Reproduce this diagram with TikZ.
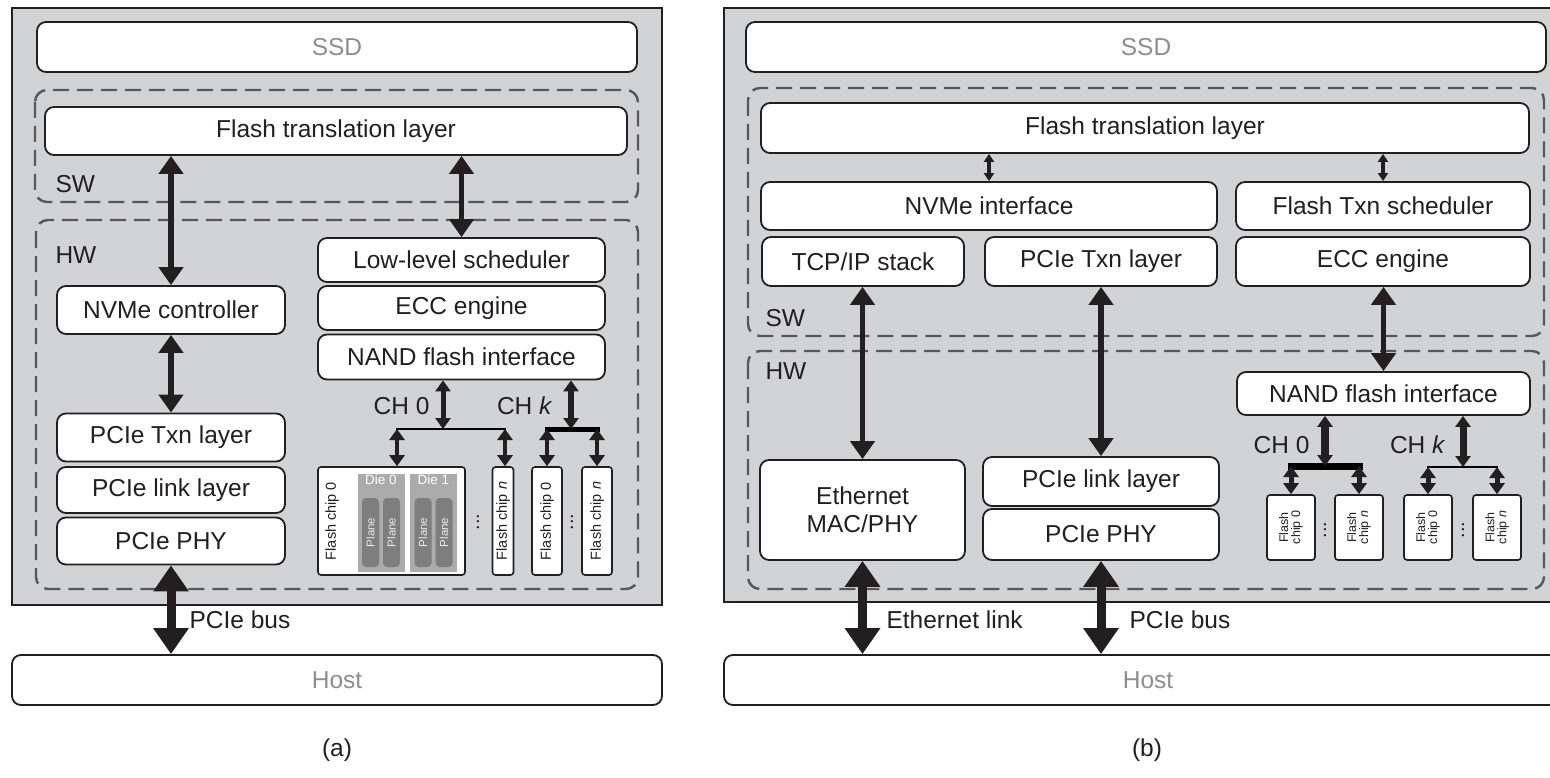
\documentclass[tikz,border=0pt]{standalone}
\usepackage{fontspec}
\setmainfont{Liberation Sans}
\usetikzlibrary{arrows.meta}

\definecolor{casegray}{HTML}{D1D3D4}
\definecolor{ink}{HTML}{231F20}
\definecolor{faint}{HTML}{8E8E8E}
\definecolor{diegray}{HTML}{ABABAB}
\definecolor{planegray}{HTML}{7E7E7E}

\begin{document}
\begin{tikzpicture}[x=1pt,y=-1pt,
    font=\fontsize{24.5}{28}\selectfont, text=ink,
    blk/.style={draw=ink, fill=white, line width=1.8pt, rounded corners=9pt, inner sep=0pt},
    casebox/.style={draw=ink, fill=casegray, line width=2pt},
    zone/.style={draw=ink!75, line width=2.4pt, dash pattern=on 16pt off 8pt, rounded corners=12pt},
    dbl/.style={{Triangle[width=24pt,length=18pt]}-{Triangle[width=24pt,length=18pt]}, line width=5.5pt, draw=ink},
    thindbl/.style={{Triangle[width=10pt,length=8pt]}-{Triangle[width=10pt,length=8pt]}, line width=3.5pt, draw=ink},
    bigdbl/.style={{Triangle[width=34pt,length=26pt]}-{Triangle[width=34pt,length=26pt]}, line width=9pt, draw=ink},
    chdbl/.style={{Triangle[width=15pt,length=11pt]}-{Triangle[width=15pt,length=11pt]}, line width=#1, draw=ink},
    chipbox/.style={draw=ink, fill=white, line width=1.6pt, rounded corners=3pt, inner sep=0pt},
    chiptxt/.style={rotate=90, font=\fontsize{14.5}{15}\selectfont, inner sep=0pt},
    tinytxt/.style={rotate=90, font=\fontsize{12.5}{12}\selectfont, align=center, inner sep=0pt},
    die/.style={fill=diegray, draw=white, line width=1pt, inner sep=0pt},
    plane/.style={fill=planegray, rounded corners=4pt, inner sep=0pt, minimum width=17pt, minimum height=69pt},
    planetxt/.style={rotate=90, font=\fontsize{11.5}{11}\selectfont, text=white!85!planegray, inner sep=0pt},
    dotstxt/.style={rotate=90, font=\fontsize{20}{20}\selectfont, inner sep=0pt}
  ]
  \useasboundingbox (0,0) rectangle (1550,778);
  \fill[white] (0,0) rectangle (1550,778);
  \clip (0,0) rectangle (1550,778);

  % (a) SSD with hardware NVMe controller
  \draw[casebox] (12,8) rectangle (662,605);
  \node[blk, minimum width=600pt, minimum height=50pt, text=faint] (assd) at (337,47) {SSD};
  \draw[zone] (35,90) rectangle (638,202);
  \draw[zone] (36,220) rectangle (638,589);
  \node[anchor=west] at (52,184) {SW};
  \node[anchor=west] at (52,255) {HW};
  \node[blk, minimum width=582pt, minimum height=48pt] (aftl) at (336,131) {Flash translation layer};
  \node[blk, minimum width=287pt, minimum height=44pt] (alls) at (461.5,260) {Low-level scheduler};
  \node[blk, minimum width=287pt, minimum height=44pt] (aecc) at (461.5,308) {ECC engine};
  \node[blk, minimum width=287pt, minimum height=45pt] (anand) at (461.5,357) {NAND flash interface};
  \node[blk, minimum width=228pt, minimum height=48pt] (anvme) at (171,310) {NVMe controller};
  \node[blk, minimum width=228pt, minimum height=48pt] (atxn) at (171,437.5) {PCIe Txn layer};
  \node[blk, minimum width=228pt, minimum height=46pt] (alink) at (171,490) {PCIe link layer};
  \node[blk, minimum width=228pt, minimum height=47pt] (aphy) at (171,541) {PCIe PHY};
  \node[blk, minimum width=650pt, minimum height=50pt, text=faint] (ahost) at (337,680) {Host};
  \node (acap) at (337,750) {(a)};

  % flash chips of (a)
  \node[chipbox, minimum width=147pt, minimum height=108pt] (achip0) at (391.5,521) {};
  \node[chiptxt] at (332,521) {Flash chip 0};
  \foreach \dx/\dn in {381/0, 433.5/1} {
    \node[die, minimum width=48pt, minimum height=99pt] (adie\dn) at (\dx,522.5) {};
    \node[below=2pt, font=\fontsize{13.5}{13}\selectfont, text=white, inner sep=0pt] at (adie\dn.north) {Die \dn};
    \foreach \px in {-10.5, 10.5} {
      \node[plane] at (\dx+\px,532.5) {};
      \node[planetxt] at (\dx+\px,532.5) {Plane};
    }
  }
  \node[dotstxt] at (478,522) {...};
  \node[chipbox, minimum width=21pt, minimum height=108pt] (achipn) at (503,521) {};
  \node[chiptxt] at (achipn) {Flash chip \textit{n}};
  \node[chipbox, minimum width=30pt, minimum height=108pt] (akchip0) at (547,521) {};
  \node[chiptxt] at (akchip0) {Flash chip 0};
  \node[dotstxt] at (572,522) {...};
  \node[chipbox, minimum width=30pt, minimum height=108pt] (akchipn) at (597,521) {};
  \node[chiptxt] at (akchipn) {Flash chip \textit{n}};

  \coordinate (ach0) at (443,429);
  \coordinate (achk) at (571,429);
  \coordinate (ad0) at (397,429);
  \coordinate (adn) at (505,429);
  \node[anchor=east] at (433,406) {CH 0};
  \node[anchor=east] at (556,406) {CH \textit{k}};
  \draw[line width=1.6pt, line cap=rect] (ad0) -- (adn);
  \draw[line width=5pt, line cap=rect] (akchip0.north |- achk) -- (akchipn.north |- achk);
  \draw[chdbl=5pt] (anand.south -| ach0) -- (ach0);
  \draw[chdbl=6.5pt] (anand.south -| achk) -- (achk);
  \draw[chdbl=4.5pt] (ad0) -- (ad0 |- achip0.north);
  \draw[chdbl=4.5pt] (adn) -- (adn |- achipn.north);
  \draw[chdbl=4.5pt] (achk -| akchip0) -- (akchip0.north);
  \draw[chdbl=4.5pt] (achk -| akchipn) -- (akchipn.north);

  \draw[dbl] (aftl.south -| anvme) -- (anvme.north);
  \draw[dbl] (aftl.south -| alls) -- (alls.north);
  \draw[dbl] (anvme.south) -- (atxn.north);
  \draw[bigdbl] (aphy.south) -- (aphy.south |- ahost.north);
  \node[anchor=west] at (186,620) {PCIe bus};

  % (b) SSD with NVMe over Ethernet
  \draw[casebox] (724,8) rectangle (1580,602);
  \node[blk, minimum width=800pt, minimum height=50pt, text=faint] (bssd) at (1146,47) {SSD};
  \draw[zone] (748,88) rectangle (1544,336);
  \draw[zone] (748,351) rectangle (1544,589);
  \node[anchor=west] at (762,318) {SW};
  \node[anchor=west] at (762,371) {HW};
  \node[blk, minimum width=768pt, minimum height=50pt] (bftl) at (1145,128) {Flash translation layer};
  \node[blk, minimum width=456pt, minimum height=48pt] (bnvme) at (989,206) {NVMe interface};
  \node[blk, minimum width=294pt, minimum height=48pt] (bsched) at (1383,206) {Flash Txn scheduler};
  \node[blk, minimum width=202pt, minimum height=49pt] (btcp) at (863,261.5) {TCP/IP stack};
  \node[blk, minimum width=232pt, minimum height=49pt] (btxn) at (1101,261.5) {PCIe Txn layer};
  \node[blk, minimum width=294pt, minimum height=49pt] (becc) at (1383,261.5) {ECC engine};
  \node[blk, minimum width=293pt, minimum height=43pt] (bnand) at (1383.5,393.5) {NAND flash interface};
  \node[blk, minimum width=205pt, minimum height=100pt, align=center] (beth) at (862.5,510) {Ethernet\\MAC/PHY};
  \node[blk, minimum width=236pt, minimum height=49pt] (blink) at (1101,481.5) {PCIe link layer};
  \node[blk, minimum width=236pt, minimum height=51pt] (bphy) at (1101,534.5) {PCIe PHY};
  \node[blk, minimum width=848pt, minimum height=50pt, text=faint] (bhost) at (1148,680) {Host};
  \node (bcap) at (1147,750) {(b)};

  % flash chips of (b)
  \foreach \cx/\cn/\cl in {1291/a/0, 1359/b/\textit{n}, 1428/c/0, 1497/d/\textit{n}} {
    \node[chipbox, minimum width=48pt, minimum height=65pt] (bchip\cn) at (\cx,527.5) {};
    \node[tinytxt] at (bchip\cn) {Flash\\chip \cl};
  }
  \node[dotstxt] at (1325,530) {...};
  \node[dotstxt] at (1463,530) {...};
  \coordinate (bch0) at (1325,466);
  \coordinate (bchk) at (1463,467);
  \node[anchor=east] at (1313,445) {CH 0};
  \node[anchor=east] at (1449,445) {CH \textit{k}};
  \draw[line width=7pt, line cap=rect] (bch0 -| bchipa) -- (bch0 -| bchipb);
  \draw[line width=2pt, line cap=rect] (bchk -| bchipc) -- (bchk -| bchipd);
  \draw[chdbl=8pt] (bnand.south -| bch0) -- (bch0);
  \draw[chdbl=7pt] (bnand.south -| bchk) -- (bchk);
  \foreach \cn in {a,b} \draw[chdbl=5pt] (bch0 -| bchip\cn) -- (bchip\cn.north);
  \foreach \cn in {c,d} \draw[chdbl=5pt] (bchk -| bchip\cn) -- (bchip\cn.north);

  \draw[thindbl] (bftl.south -| bnvme) -- (bnvme.north);
  \draw[thindbl] (bftl.south -| bsched) -- (bsched.north);
  \draw[dbl] (btcp.south -| beth) -- (beth.north);
  \draw[dbl] (btxn.south) -- (blink.north);
  \draw[dbl] (becc.south -| bnand) -- (bnand.north);
  \draw[bigdbl] (beth.south) -- (beth.south |- bhost.north);
  \draw[bigdbl] (bphy.south) -- (bphy.south |- bhost.north);
  \node[anchor=west] at (883,620) {Ethernet link};
  \node[anchor=west] at (1126,620) {PCIe bus};
\end{tikzpicture}
\end{document}
